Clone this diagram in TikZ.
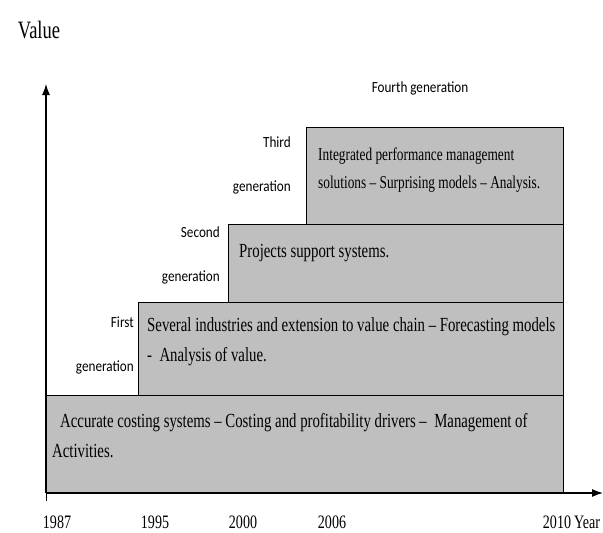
\documentclass[tikz,border=0pt]{standalone}
\usepackage{fontspec}
\setmainfont{Liberation Serif}
\newfontfamily\narrowserif[FakeStretch=0.74,Ligatures=TeX]{Liberation Serif}
\newfontfamily\narrowsans[FakeStretch=0.85,Ligatures=TeX]{Carlito}
\usetikzlibrary{positioning,arrows.meta}

\begin{document}
\begin{tikzpicture}[x=1pt,y=-1pt,
  genbox/.style={draw,line width=1.3pt,fill=gray!50,anchor=north west,inner sep=0pt},
  boxtext/.style={anchor=north west,align=left,inner sep=0pt,font=\narrowserif\fontsize{20}{30}\selectfont},
  genlabel/.style={align=right,anchor=east,inner sep=0pt,font=\narrowsans\fontsize{15.5}{44}\selectfont},
  yearlabel/.style={inner sep=0pt,font=\narrowserif\fontsize{19}{20}\selectfont},
  axis/.style={line width=1.2pt,-{Latex[length=11pt,width=8pt]}}]

  \useasboundingbox (0,0) rectangle (603,533);

  \coordinate (origin) at (46,493);
  \coordinate (ytop) at (46,84);
  \coordinate (xend) at (603,493);

  % stacked generations, oldest at the bottom
  \node[genbox,minimum width=517,minimum height=98] (gen0) at (46,395) {};
  \node[genbox,minimum width=425,minimum height=93] (gen1) at (138,302) {};
  \node[genbox,minimum width=335,minimum height=78] (gen2) at (228,224) {};
  \node[genbox,minimum width=257,minimum height=97] (gen3) at (306,127) {};

  \node[boxtext] (gen0text) at (52,413) {\hspace{8pt}Accurate costing systems -- Costing and profitability drivers --\ \ Management of\\Activities.};
  \node[boxtext] (gen1text) at (147,317) {Several industries and extension to value chain -- Forecasting models\\-\ \ Analysis of value.};
  \node[boxtext] (gen2text) at (239,244) {Projects support systems.};
  \node[boxtext,font=\narrowserif\fontsize{18}{28}\selectfont] (gen3text) at (318,148) {Integrated performance management\\solutions -- Surprising\ models -- Analysis.};

  \node[genlabel] (lab1) at (134,345) {First\\generation};
  \node[genlabel] (lab2) at (220,255) {Second\\generation};
  \node[genlabel] (lab3) at (291,165) {Third\\generation};
  \node[genlabel,anchor=center] (lab4) at (420,88) {Fourth\ generation};

  % axes
  \draw[axis] (origin) -- (ytop);
  \draw[axis] (origin) -- (xend);
  \draw[line width=1pt] (origin) -- ++(0,8);

  \node[yearlabel,font=\narrowserif\fontsize{25}{26}\selectfont] (value) at (39,30) {Value};
  \foreach \yr/\xpos in {1987/57,1995/155,2000/243,2006/332,2010/557}
    \node[yearlabel] (y\yr) at (\xpos,522) {\yr};
  \node[yearlabel] (year) at (587,522) {Year};

\end{tikzpicture}
\end{document}
